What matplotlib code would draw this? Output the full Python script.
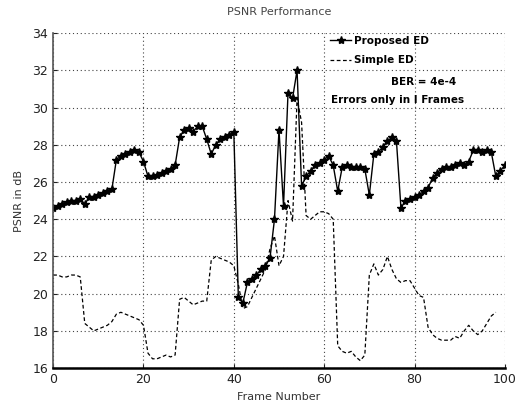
import numpy as np
import matplotlib
matplotlib.use("Agg")
import matplotlib.pyplot as plt

# frame numbers
frames = np.arange(0, 101)
frames_simple = np.arange(0, 99)

# PSNR (dB)
psnr_proposed = [24.6, 24.7, 24.8, 24.9, 25.0, 25.0, 25.1, 24.8, 25.2, 25.2,
                 25.3, 25.4, 25.5, 25.6, 27.2, 27.4, 27.5, 27.6, 27.7, 27.6,
                 27.1, 26.3, 26.3, 26.4, 26.5, 26.6, 26.7, 26.9, 28.4, 28.8,
                 28.9, 28.7, 29.0, 29.0, 28.3, 27.5, 28.0, 28.3, 28.4, 28.5,
                 28.7, 19.8, 19.5, 20.6, 20.8, 21.0, 21.3, 21.5, 21.9, 24.0,
                 28.8, 24.7, 30.8, 30.5, 32.0, 25.8, 26.3, 26.6, 26.9, 27.0,
                 27.2, 27.4, 26.9, 25.5, 26.8, 26.9, 26.8, 26.8, 26.8, 26.7,
                 25.3, 27.5, 27.6, 27.9, 28.2, 28.4, 28.2, 24.6, 25.0, 25.1,
                 25.2, 25.3, 25.5, 25.7, 26.2, 26.5, 26.7, 26.8, 26.8, 26.9,
                 27.0, 26.9, 27.1, 27.7, 27.7, 27.6, 27.7, 27.6, 26.3, 26.6,
                 26.9]

psnr_simple = [21.0, 21.0, 20.9, 20.9, 21.0, 21.0, 20.9, 18.4, 18.2, 18.0,
               18.1, 18.2, 18.3, 18.5, 18.9, 19.0, 18.9, 18.8, 18.7, 18.6,
               18.3, 16.8, 16.5, 16.5, 16.6, 16.7, 16.6, 16.7, 19.7, 19.8,
               19.6, 19.4, 19.5, 19.6, 19.6, 21.8, 22.0, 21.9, 21.8, 21.7,
               21.5, 20.5, 19.2, 19.3, 19.8, 20.3, 20.8, 21.3, 22.4, 23.1,
               21.5, 22.0, 25.0, 23.9, 30.5, 29.2, 24.2, 24.0, 24.2, 24.4,
               24.4, 24.3, 24.0, 17.2, 16.9, 16.8, 16.9, 16.6, 16.4, 16.7,
               21.0, 21.6, 21.0, 21.3, 22.0, 21.3, 20.8, 20.6, 20.7, 20.7,
               20.3, 19.9, 19.8, 18.2, 17.8, 17.6, 17.5, 17.5, 17.5, 17.7,
               17.6, 18.0, 18.3, 18.0, 17.8, 18.0, 18.4, 18.8, 19.0]

xticks = [0, 20, 40, 60, 80, 100]
yticks = [16, 18, 20, 22, 24, 26, 28, 30, 32, 34]

plt.rcParams.update({'font.size': 8, 'font.family': 'DejaVu Sans'})
fig = plt.figure(figsize=(5.21, 4.09), dpi=100)
ax = fig.add_axes([0.102, 0.100, 0.867, 0.819])

ax.plot(frames, psnr_proposed, color='k', linestyle='-', linewidth=1.0,
        marker='*', markersize=6, label='Proposed ED')
ax.plot(frames_simple, psnr_simple, color='k', linestyle='--', dashes=(3, 2),
        linewidth=0.9, label='Simple ED')

ax.set_xlim(0, 100)
ax.set_ylim(16, 34)
ax.set_xticks(xticks)
ax.set_yticks(yticks)
ax.tick_params(direction='in', length=3, labelsize=9, colors='#222222')
ax.grid(True, linestyle=(0, (1, 2.5)), color='#444444', linewidth=0.8)

# top/right borders look dotted like the grid in the scan
ax.spines['top'].set_visible(False)
ax.spines['right'].set_visible(False)
ax.spines['left'].set_linewidth(1.2)
ax.spines['left'].set_color('#555555')
ax.spines['bottom'].set_linewidth(1.8)

ax.set_title('PSNR Performance', fontsize=8, color='#444444', pad=13)
ax.set_xlabel('Frame Number', fontsize=8, color='#333333', labelpad=4)
ax.set_ylabel('PSNR in dB', fontsize=8, color='#333333', labelpad=6)

ax.legend(loc='upper left', bbox_to_anchor=(0.6, 1.01), frameon=False,
          handlelength=2.0, handletextpad=0.3,
          labelspacing=0.9, borderaxespad=0.2,
          prop={'weight': 'bold', 'size': 7.5})
ax.text(0.82, 0.855, 'BER = 4e-4', transform=ax.transAxes, ha='center',
        va='center', fontsize=7.5, fontweight='bold')
ax.text(0.615, 0.80, 'Errors only in I Frames', transform=ax.transAxes,
        ha='left', va='center', fontsize=7.5, fontweight='bold')

plt.savefig('out.png', dpi=100)
